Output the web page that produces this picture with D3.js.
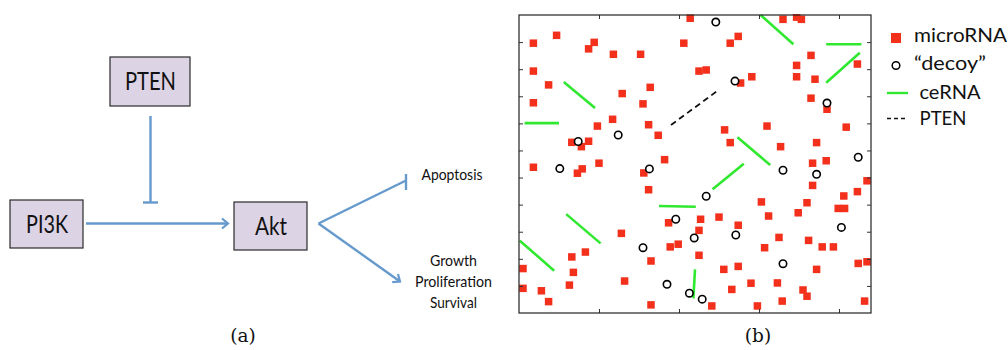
<!DOCTYPE html>
<html>
<head>
<meta charset="utf-8">
<script src="https://cdn.jsdelivr.net/npm/d3@7"></script>
<style>
  html, body { margin: 0; padding: 0; background: #fff; }
  svg { display: block; }
</style>
</head>
<body>
<svg id="fig" width="1008" height="350"></svg>
<script>
// ---------------- DATA ----------------
// Panel (a): pathway nodes and labels
const nodeNames = ["PTEN", "PI3K", "Akt"];
const outcomeApoptosis = ["Apoptosis"];
const outcomeGrowth = ["Growth", "Proliferation", "Survival"];

// Panel (b): microRNA positions (x, y in axis units)
const microX = [0.18,0.47,0.87,0.94,1.18,1.52,2.06,2.14,0.18,0.37,0.18,1.29,1.64,1.55,1.17,0.98,1.62,1.74,0.66,0.78,0.87,1.82,
  3.30,3.47,3.53,2.64,2.74,2.25,2.34,2.91,2.77,3.65,3.47,3.47,3.70,4.23,3.65,3.85,2.57,3.10,4.09,2.64,3.27,3.72,3.84,
  0.18,0.73,0.79,1.00,1.56,1.62,1.28,1.87,1.89,1.99,0.66,0.83,0.68,0.05,0.05,0.28,0.37,0.63,1.32,1.65,1.65,
  3.67,3.67,4.35,4.06,4.23,3.99,4.07,3.03,3.60,3.49,3.12,2.27,2.50,2.25,2.74,3.25,3.62,3.07,3.79,3.93,2.25,2.56,2.74,
  3.72,4.24,4.35,2.90,3.23,2.66,3.55,3.60,2.41,2.98,3.29,4.32];
const microY = [9.96,10.25,9.75,9.99,9.55,9.55,9.96,10.88,8.93,8.42,7.76,8.10,8.33,7.72,7.15,6.90,6.95,6.56,6.30,6.14,6.34,5.66,
  10.84,10.92,10.84,9.96,10.21,8.93,8.97,8.72,8.49,9.51,9.14,8.72,8.63,9.19,7.93,7.52,6.76,6.90,6.86,6.29,6.14,6.29,5.62,
  5.38,5.16,5.32,5.53,5.17,4.55,2.94,3.33,2.44,2.54,2.07,2.25,1.50,1.64,0.91,0.82,0.42,1.03,1.18,1.92,0.30,
  5.53,4.71,4.88,4.32,4.48,3.86,3.86,4.10,4.07,3.70,3.58,3.46,3.54,3.05,3.24,2.79,2.68,2.41,2.44,2.44,2.13,1.61,1.72,
  1.61,1.83,1.89,1.10,1.11,0.87,0.85,0.62,0.26,0.26,0.44,0.44];

// "decoy" positions
const decoyX = [0.74,1.24,2.46,2.70,3.85,4.24,0.51,1.63,1.96,1.55,1.85,2.13,3.30,3.72,2.34,2.19,2.71,4.03,3.30,2.29];
const decoyY = [6.33,6.57,10.74,8.56,7.75,5.75,5.33,5.32,3.46,2.41,1.06,0.73,5.27,5.12,4.31,2.77,2.88,3.16,1.82,0.51];

// ceRNA segments: start and end points
const ceX1 = [0.07,0.56,3.02,3.84,3.84,2.73,1.75,0.59,0.01,2.42,2.20];
const ceY1 = [7.01,8.53,11.00,9.92,8.50,6.49,3.95,3.65,2.67,4.57,1.61];
const ceX2 = [0.50,0.95,3.43,4.28,4.26,3.14,2.21,1.02,0.44,2.81,2.18];
const ceY2 = [7.01,7.57,9.92,9.92,9.61,5.46,3.92,2.57,1.56,5.51,0.54];

// PTEN segment
const ptenX = [1.90, 2.49];
const ptenY = [6.94, 8.22];

// axis ticks (no labels)
const xTicks = [1, 2, 3, 4];
const yTicks = [1, 2, 3, 4, 5, 6, 7, 8, 9, 10];
const xDomain = [0, 4.4];
const yDomain = [0, 11];

const legendLabels = ["microRNA", "\u201Cdecoy\u201D", "ceRNA", "PTEN"];
const captions = ["(a)", "(b)"];

// ---------------- STYLE ----------------
const RED = "#f2301c";
const GREEN = "#30e830";
const BLUE = "#6699cc";
const BOXFILL = "#dcd3e5";
const SANS = "Lato, 'Open Sans', sans-serif";
const SERIF = "'DejaVu Serif', 'Liberation Serif', serif";

const svg = d3.select("#fig");

// ================= PANEL (a) =================
const gA = svg.append("g");

// node layout (diagram geometry)
const boxes = {
  PTEN: {x: 110, y: 57, w: 80, h: 49, tx: 150.5, ty: 90, tw: 51, fs: 25},
  PI3K: {x: 10, y: 200, w: 73, h: 48, tx: 47, ty: 233, tw: 42, fs: 25},
  Akt:  {x: 234, y: 202, w: 73, h: 48, tx: 271, ty: 235, tw: 32, fs: 25}
};

const defs = svg.append("defs");
defs.append("marker")
  .attr("id", "chev")
  .attr("viewBox", "0 0 12 12")
  .attr("refX", 10).attr("refY", 6)
  .attr("markerWidth", 12).attr("markerHeight", 12)
  .attr("markerUnits", "userSpaceOnUse")
  .attr("orient", "auto")
  .append("path")
  .attr("d", "M4,1 L10,6 L4,11")
  .attr("fill", "none").attr("stroke", BLUE).attr("stroke-width", 2.2);

// edges
const line = (x1, y1, x2, y2) => gA.append("line")
  .attr("x1", x1).attr("y1", y1).attr("x2", x2).attr("y2", y2)
  .attr("stroke", BLUE).attr("stroke-width", 2.4).attr("stroke-linecap", "butt");

line(86, 223.5, 228, 223.5).attr("marker-end", "url(#chev)");
line(150.5, 116, 150.5, 202.5);
line(143, 202.5, 158, 202.5);
line(318.5, 223.5, 406, 180.5);
line(406, 174, 406, 190);
line(318.5, 223.5, 400, 281.5).attr("marker-end", "url(#chev)");

nodeNames.forEach(n => {
  const b = boxes[n];
  gA.append("rect")
    .attr("x", b.x).attr("y", b.y).attr("width", b.w).attr("height", b.h)
    .attr("fill", BOXFILL).attr("stroke", "#2a2a2a").attr("stroke-width", 1.2);
  gA.append("text")
    .attr("x", b.tx).attr("y", b.ty)
    .attr("text-anchor", "middle")
    .attr("font-family", SANS).attr("font-size", b.fs)
    .attr("textLength", b.tw).attr("lengthAdjust", "spacingAndGlyphs")
    .attr("fill", "#111")
    .text(n);
});

gA.append("text")
  .attr("x", 452).attr("y", 180)
  .attr("text-anchor", "middle")
  .attr("font-family", SANS).attr("font-size", 16)
  .attr("textLength", 61).attr("lengthAdjust", "spacingAndGlyphs")
  .attr("fill", "#111")
  .text(outcomeApoptosis[0]);

const growthW = [47, 77, 47];
outcomeGrowth.forEach((t, i) => {
  gA.append("text")
    .attr("x", 453.5).attr("y", 266 + i * 21)
    .attr("text-anchor", "middle")
    .attr("font-family", SANS).attr("font-size", 16)
    .attr("textLength", growthW[i]).attr("lengthAdjust", "spacingAndGlyphs")
    .attr("fill", "#111")
    .text(t);
});

// ================= PANEL (b) =================
const x = d3.scaleLinear().domain(xDomain).range([519, 871]);
const y = d3.scaleLinear().domain(yDomain).range([313, 15]);

const gB = svg.append("g");

gB.append("clipPath").attr("id", "plotclip")
  .append("rect").attr("x", 519).attr("y", 14).attr("width", 352).attr("height", 300);

const plot = gB.append("g").attr("clip-path", "url(#plotclip)");

// ceRNA
plot.selectAll("line.ce")
  .data(d3.range(ceX1.length))
  .join("line")
  .attr("class", "ce")
  .attr("x1", i => x(ceX1[i])).attr("y1", i => y(ceY1[i]))
  .attr("x2", i => x(ceX2[i])).attr("y2", i => y(ceY2[i]))
  .attr("stroke", GREEN).attr("stroke-width", 2.6);

// PTEN dashed
plot.append("line")
  .attr("x1", x(ptenX[0])).attr("y1", y(ptenY[0]))
  .attr("x2", x(ptenX[1])).attr("y2", y(ptenY[1]))
  .attr("stroke", "#111").attr("stroke-width", 1.8)
  .attr("stroke-dasharray", "6,4");

// microRNA squares
const S = 7.5;
plot.selectAll("rect.mi")
  .data(d3.range(microX.length))
  .join("rect")
  .attr("class", "mi")
  .attr("x", i => x(microX[i]) - S / 2).attr("y", i => y(microY[i]) - S / 2)
  .attr("width", S).attr("height", S)
  .attr("fill", RED);

// decoys
plot.selectAll("circle.dc")
  .data(d3.range(decoyX.length))
  .join("circle")
  .attr("class", "dc")
  .attr("cx", i => x(decoyX[i])).attr("cy", i => y(decoyY[i]))
  .attr("r", 3.7)
  .attr("fill", "#fff").attr("stroke", "#000").attr("stroke-width", 1.6);

// axes: ticks inward, no labels
const tickLen = 4;
const axBottom = d3.axisBottom(x).tickValues(xTicks).tickSize(-tickLen).tickFormat("");
const axTop = d3.axisTop(x).tickValues(xTicks).tickSize(-tickLen).tickFormat("");
const axLeft = d3.axisLeft(y).tickValues(yTicks).tickSize(-tickLen).tickFormat("");
const axRight = d3.axisRight(y).tickValues(yTicks).tickSize(-tickLen).tickFormat("");

const styleAxis = g => {
  g.selectAll("path.domain").remove();
  g.selectAll("line").attr("stroke", "#333").attr("stroke-width", 1);
};
gB.append("g").attr("transform", "translate(0,313)").call(axBottom).call(styleAxis);
gB.append("g").attr("transform", "translate(0,15)").call(axTop).call(styleAxis);
gB.append("g").attr("transform", "translate(519,0)").call(axLeft).call(styleAxis);
gB.append("g").attr("transform", "translate(871,0)").call(axRight).call(styleAxis);

gB.append("rect")
  .attr("x", 519).attr("y", 15).attr("width", 352).attr("height", 298)
  .attr("fill", "none").attr("stroke", "#222").attr("stroke-width", 1.2);

// legend
const lg = svg.append("g");
lg.append("rect").attr("x", 891).attr("y", 33).attr("width", 10).attr("height", 10).attr("fill", RED);
lg.append("circle").attr("cx", 896).attr("cy", 65.5).attr("r", 3.8)
  .attr("fill", "#fff").attr("stroke", "#000").attr("stroke-width", 1.5);
lg.append("line").attr("x1", 887).attr("x2", 908).attr("y1", 93).attr("y2", 93)
  .attr("stroke", GREEN).attr("stroke-width", 2.4);
lg.append("line").attr("x1", 887).attr("x2", 907).attr("y1", 118.5).attr("y2", 118.5)
  .attr("stroke", "#111").attr("stroke-width", 1.3).attr("stroke-dasharray", "4,3");

const legX = [914, 914, 919.5, 919.5];
const legY = [42, 69.5, 98.5, 125];
const legW = [93, 72, 61, 47];
legendLabels.forEach((t, i) => {
  lg.append("text")
    .attr("x", legX[i]).attr("y", legY[i])
    .attr("font-family", SANS).attr("font-size", 19)
    .attr("textLength", legW[i]).attr("lengthAdjust", "spacingAndGlyphs")
    .attr("fill", "#111")
    .text(t);
});

// captions
const capX = [243, 758];
captions.forEach((t, i) => {
  svg.append("text")
    .attr("x", capX[i]).attr("y", 342)
    .attr("text-anchor", "middle")
    .attr("font-family", SERIF).attr("font-size", 18.5)
    .attr("fill", "#111")
    .text(t);
});
</script>
</body>
</html>
